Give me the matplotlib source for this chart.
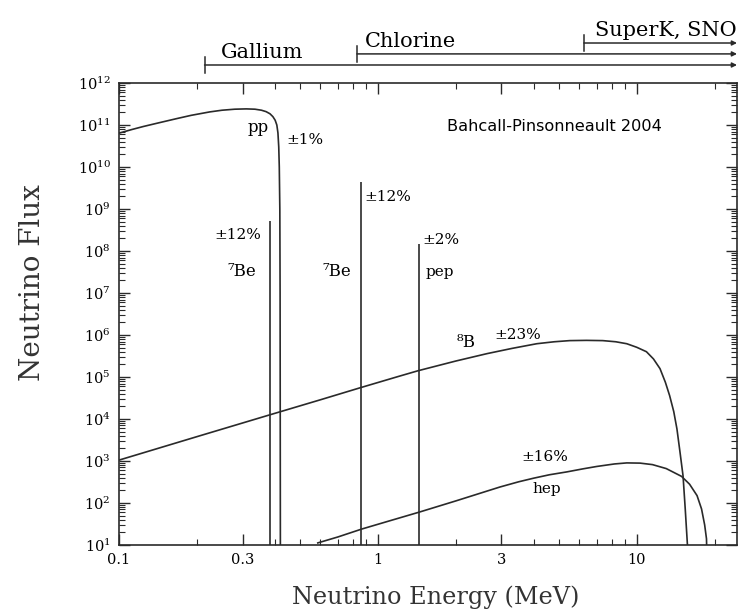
import matplotlib
matplotlib.use("Agg")
import matplotlib.pyplot as plt
from matplotlib.ticker import FixedLocator, FixedFormatter, LogLocator, LogFormatterMathtext, NullFormatter
import numpy as np

plt.rcParams['font.family'] = ['DejaVu Serif']
plt.rcParams['mathtext.fontset'] = 'dejavuserif'

# ---- data ----
pp_E = [0.100, 0.112, 0.124, 0.140, 0.167, 0.190, 0.224, 0.250, 0.280, 0.310, 0.335, 0.355,
        0.370, 0.383, 0.393, 0.401, 0.407, 0.411, 0.414, 0.416, 0.418, 0.419, 0.4202]
pp_F = [6.4e10, 7.8e10, 9.2e10, 1.1e11, 1.42e11, 1.7e11, 2.05e11, 2.25e11, 2.38e11, 2.42e11, 2.38e11, 2.25e11,
        2.08e11, 1.85e11, 1.58e11, 1.3e11, 1.0e11, 6.5e10, 3.0e10, 1.0e10, 1.0e9, 1.0e7, 1.0]

b8_E = [0.100, 0.200, 0.383, 0.600, 0.859, 1.20, 1.43, 2.00, 2.64, 3.30, 4.11, 4.80, 5.51, 6.40,
        7.39, 8.30, 9.15, 10.0, 10.9, 11.6, 12.3, 12.9, 13.4, 13.9, 14.3, 14.7, 15.1, 15.4, 15.7, 16.0]
b8_F = [1.05e3, 3.8e3, 1.26e4, 2.87e4, 5.6e4, 1.03e5, 1.41e5, 2.4e5, 3.6e5, 4.8e5, 6.2e5, 6.9e5, 7.35e5, 7.45e5,
        7.35e5, 6.9e5, 6.2e5, 5.1e5, 4.0e5, 2.7e5, 1.58e5, 7.5e4, 3.6e4, 1.5e4, 5.8e3, 1.6e3, 4.4e2, 7.0e1, 1.0e1, 1.0]

hep_E = [0.586, 0.700, 0.867, 1.10, 1.45, 2.00, 2.96, 3.50, 4.00, 4.60, 5.37, 6.20, 7.00, 8.20, 9.15,
         10.3, 11.5, 13.0, 14.9, 16.0, 17.1, 17.8, 18.3, 18.6, 18.77]
hep_F = [11.2, 15.5, 24, 37, 61, 112, 240, 320, 390, 470, 550, 650, 740, 850, 900,
         890, 820, 660, 430, 280, 150, 72, 30, 14, 1.0]

line_names = ['7Be', '7Be', 'pep']
line_E = [0.384, 0.862, 1.442]
line_F = [5.1e8, 4.5e9, 1.44e8]

det_names = ['Gallium', 'Chlorine', 'SuperK, SNO']
det_thresh = [0.214, 0.83, 6.25]

xticks = [0.1, 0.3, 1, 3, 10]
xticklabels = ['0.1', '0.3', '1', '3', '10']
xminor = [0.2, 0.4, 0.5, 0.6, 0.7, 0.8, 0.9, 2, 4, 5, 6, 7, 8, 9, 20]

col = '#2a2a2a'
lw = 1.2

fig = plt.figure(figsize=(7.44, 6.14), dpi=100)
ax = fig.add_axes([0.160, 0.1124, 0.8306, 0.7524])
ax.set_xscale('log')
ax.set_yscale('log')
ax.set_xlim(0.1, 24.4)
ax.set_ylim(1e1, 1e12)

ax.plot(pp_E, pp_F, color=col, lw=lw)
ax.plot(b8_E, b8_F, color=col, lw=lw)
ax.plot(hep_E, hep_F, color=col, lw=lw)
ax.vlines(line_E, 1e1, line_F, color=col, lw=lw)

# labels on curves
fs = 11
ax.text(0.344, 8.5e10, 'pp', fontsize=fs + 1, ha='center', va='center')
ax.text(0.524, 4.4e10, '±1%', fontsize=fs, ha='center', va='center')
ax.text(0.288, 2.4e8, '±12%', fontsize=fs, ha='center', va='center')
ax.text(0.299, 3.2e7, '⁷Be', fontsize=fs + 1, ha='center', va='center')
ax.text(0.694, 3.2e7, '⁷Be', fontsize=fs + 1, ha='center', va='center')
ax.text(1.09, 1.94e9, '±12%', fontsize=fs, ha='center', va='center')
ax.text(1.75, 1.8e8, '±2%', fontsize=fs, ha='center', va='center')
ax.text(1.74, 3.2e7, 'pep', fontsize=fs, ha='center', va='center')
ax.text(2.19, 6.5e5, '⁸B', fontsize=fs + 1, ha='center', va='center')
ax.text(3.46, 1.0e6, '±23%', fontsize=fs, ha='center', va='center')
ax.text(4.43, 1.26e3, '±16%', fontsize=fs, ha='center', va='center')
ax.text(4.5, 2.1e2, 'hep', fontsize=fs, ha='center', va='center')
ax.text(1.85, 9.0e10, 'Bahcall-Pinsonneault 2004', fontsize=11.6, ha='left', va='center',
        family='DejaVu Sans')

# detector thresholds above the axes
tr = ax.get_xaxis_transform()
det_y = [1.039, 1.063, 1.0866]
txt_x = [0.247, 0.89, 6.9]
txt_y = [1.066, 1.089, 1.114]
for name, th, yy, tx, ty in zip(det_names, det_thresh, det_y, txt_x, txt_y):
    ax.annotate('', xy=(24.4, yy), xytext=(th, yy), xycoords=tr, textcoords=tr,
                arrowprops=dict(arrowstyle='-|>', color=col, lw=1.1, mutation_scale=7,
                                shrinkA=0, shrinkB=0), annotation_clip=False)
    ax.plot([th, th], [yy - 0.018, yy + 0.018], transform=tr, color=col, lw=1.1, clip_on=False)
    ax.text(tx, ty, name, transform=tr, fontsize=15, ha='left', va='center')

# ticks
ax.xaxis.set_major_locator(FixedLocator(xticks))
ax.xaxis.set_major_formatter(FixedFormatter(xticklabels))
ax.xaxis.set_minor_locator(FixedLocator(xminor))
ax.xaxis.set_minor_formatter(NullFormatter())
ax.yaxis.set_major_locator(LogLocator(base=10, numticks=20))
ax.yaxis.set_major_formatter(LogFormatterMathtext())
ax.yaxis.set_minor_locator(LogLocator(base=10, subs=np.arange(2, 10), numticks=20))
ax.yaxis.set_minor_formatter(NullFormatter())
ax.tick_params(which='both', direction='in', top=True, right=True, color=col)
ax.tick_params(which='major', length=8, width=1.0, labelsize=10.5, pad=6)
ax.tick_params(which='minor', length=4, width=0.8)
for s in ax.spines.values():
    s.set_color(col)
    s.set_linewidth(1.2)

ax.set_xlabel('Neutrino Energy (MeV)', fontsize=17.3, color='#333333')
ax.set_ylabel('Neutrino Flux', fontsize=20, color='#333333')
ax.xaxis.set_label_coords(0.513, -0.087)
ax.yaxis.set_label_coords(-0.118, 0.567)

fig.savefig('out.png', dpi=100)
